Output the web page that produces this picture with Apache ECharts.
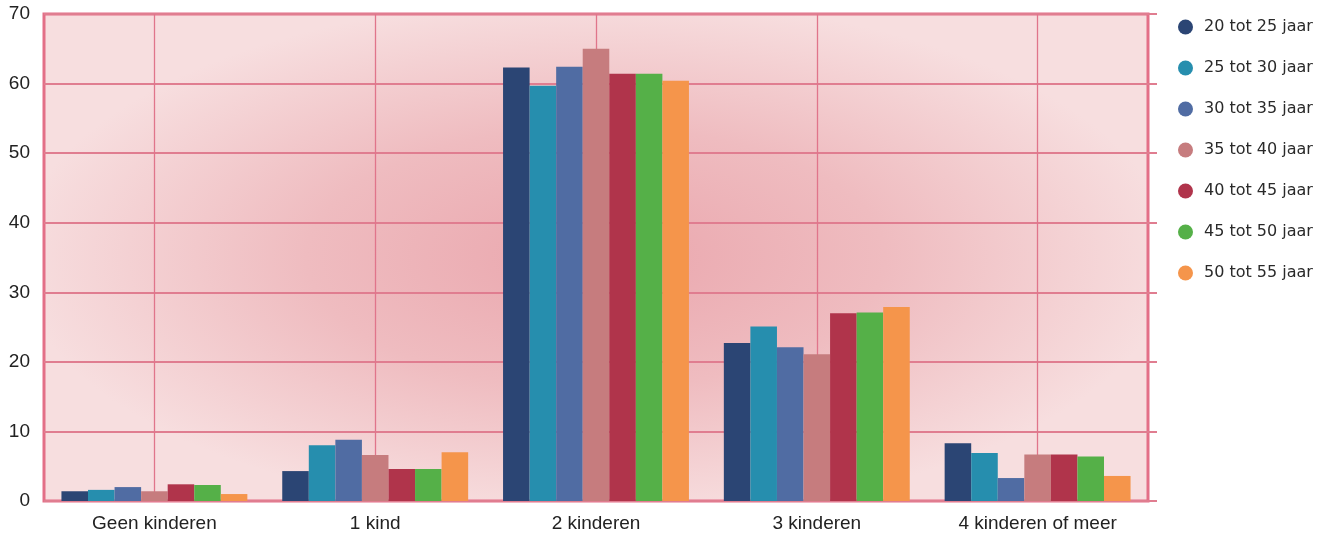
<!DOCTYPE html>
<html>
<head>
<meta charset="utf-8">
<script src="https://cdn.jsdelivr.net/npm/echarts@6/dist/echarts.min.js"></script>
<style>
html,body{margin:0;padding:0;background:#fff;}
#chart{width:1329px;height:535px;}
</style>
</head>
<body>
<div id="chart"></div>
<script>
const categories = ['Geen kinderen', '1 kind', '2 kinderen', '3 kinderen', '4 kinderen of meer'];
const seriesNames = ['20 tot 25 jaar', '25 tot 30 jaar', '30 tot 35 jaar', '35 tot 40 jaar', '40 tot 45 jaar', '45 tot 50 jaar', '50 tot 55 jaar'];
const s20_25 = [1.4, 4.3, 62.3, 22.7, 8.3];
const s25_30 = [1.6, 8.0, 59.7, 25.1, 6.9];
const s30_35 = [2.0, 8.8, 62.4, 22.1, 3.3];
const s35_40 = [1.4, 6.6, 65.0, 21.1, 6.7];
const s40_45 = [2.4, 4.6, 61.4, 27.0, 6.7];
const s45_50 = [2.3, 4.6, 61.4, 27.1, 6.4];
const s50_55 = [1.0, 7.0, 60.4, 27.9, 3.6];
const yTicks = [0, 10, 20, 30, 40, 50, 60, 70];

const seriesData = [s20_25, s25_30, s30_35, s35_40, s40_45, s45_50, s50_55];
const colors = ['#2b4574', '#268eae', '#506ca3', '#c67c7e', '#b0344b', '#55b048', '#f5954b'];

const G = {left: 44, top: 14, right: 181, bottom: 34};
const gw = 1329 - G.left - G.right;
const gh = 535 - G.top - G.bottom;
const sY = 0.45;

const chart = echarts.init(document.getElementById('chart'), null, {renderer: 'canvas'});

// the middle series (index 3) sits at the category centre, so its markLine marks the centres
const series = seriesNames.map((name, i) => {
  const s = {
    name: name,
    type: 'bar',
    data: seriesData[i],
    itemStyle: {color: colors[i]},
    barGap: '0%',
    barCategoryGap: '15.8%',
    z: 2,
    emphasis: {disabled: true},
    animation: false
  };
  if (i === 3) {
    s.markLine = {
      silent: true,
      z: 1,
      symbol: ['none', 'none'],
      label: {show: false},
      emphasis: {disabled: true},
      animation: false,
      lineStyle: {color: '#e0758b', width: 1.3, type: 'solid'},
      data: categories.map(c => ({xAxis: c}))
    };
  }
  return s;
});

chart.setOption({
  animation: false,
  color: colors,
  graphic: [{
    type: 'rect',
    z: -10,
    silent: true,
    x: G.left,
    y: G.top,
    scaleY: sY,
    shape: {x: 0, y: 0, width: gw, height: gh / sY},
    style: {
      fill: new echarts.graphic.RadialGradient(0.5, 0.5, 0.535, [
        {offset: 0, color: '#eaa6ad'},
        {offset: 0.5, color: '#efbcc0'},
        {offset: 1, color: '#f7dedf'}
      ])
    }
  }],
  grid: {
    left: G.left, top: G.top, right: G.right, bottom: G.bottom,
    show: true,
    backgroundColor: 'transparent',
    borderColor: '#e36f87',
    borderWidth: 3
  },
  legend: {
    orient: 'vertical',
    left: 1173,
    top: 14,
    itemWidth: 15,
    itemHeight: 15,
    itemGap: 25,
    icon: 'circle',
    data: seriesNames,
    textStyle: {
      fontFamily: '"DejaVu Sans", sans-serif',
      fontSize: 16,
      color: '#2a2a2a',
      padding: [2, 0, 0, 6]
    }
  },
  xAxis: {
    type: 'category',
    data: categories,
    axisLine: {show: false},
    axisTick: {show: false},
    splitLine: {show: false},
    axisLabel: {
      margin: 13,
      fontFamily: '"Liberation Sans", Arial, sans-serif',
      fontSize: 19,
      color: '#222'
    }
  },
  yAxis: [{
    type: 'value',
    min: yTicks[0],
    max: yTicks[yTicks.length - 1],
    interval: yTicks[1] - yTicks[0],
    axisLine: {show: false},
    axisTick: {show: false},
    splitLine: {show: true, lineStyle: {color: '#e07d90', width: 2}},
    axisLabel: {
      margin: 14,
      fontFamily: '"Liberation Sans", Arial, sans-serif',
      fontSize: 19,
      color: '#222',
      verticalAlign: 'middle'
    }
  }, {
    type: 'value',
    position: 'right',
    min: yTicks[0],
    max: yTicks[yTicks.length - 1],
    interval: yTicks[1] - yTicks[0],
    axisLine: {show: false},
    axisTick: {show: true, inside: false, length: 9, lineStyle: {color: '#e07d90', width: 2}},
    splitLine: {show: false},
    axisLabel: {show: false}
  }],
  series: series
});
</script>
</body>
</html>
